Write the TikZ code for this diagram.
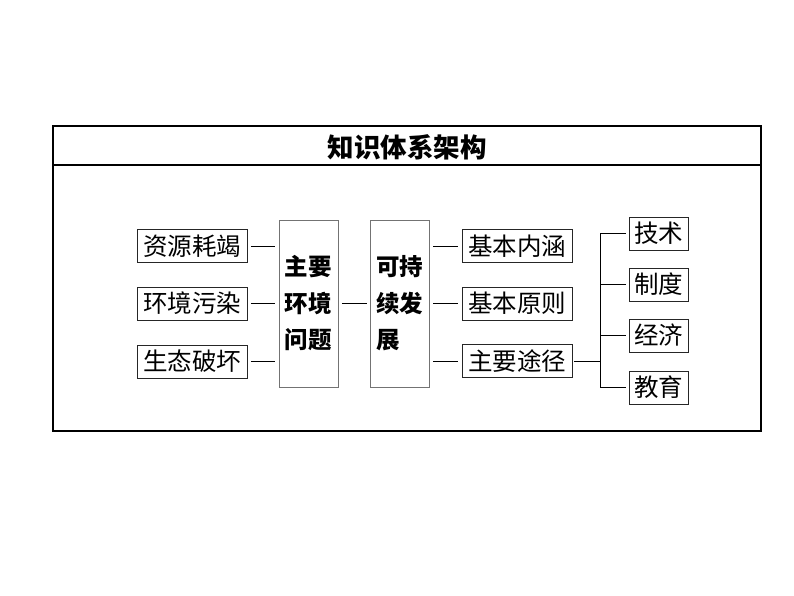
\documentclass[tikz,border=0pt]{standalone}
\usepackage{fontspec}
\newfontfamily\cjk{Noto Sans CJK SC}
\usetikzlibrary{calc}

\tikzset{
  item/.style={draw=black!85, line width=0.9pt, inner sep=0pt, minimum width=110pt, minimum height=33pt,
    font={\cjk\fontsize{24.5}{28}\selectfont}},
  small/.style={item, minimum width=59pt},
  tall/.style={draw=black!55, line width=0.9pt, inner sep=0pt, minimum width=59pt, minimum height=167pt,
    text width=48pt, align=left, font={\cjk\bfseries\fontsize{23.5}{36.5}\selectfont}},
  link/.style={line width=0.8pt, shorten <=3.5pt, shorten >=3.5pt},
}

\begin{document}
\begin{tikzpicture}[x=1pt,y=-1pt]
        \useasboundingbox (0,0) rectangle (794,596);

        % frame and title
        \draw[line width=1.1pt] (53,126) rectangle (761,431);
        \draw[line width=1.1pt] (53,165) -- (761,165);
        \node at (407,147) (title) {\cjk\bfseries\fontsize{26.5}{30}\selectfont 知识体系架构};

        % left column
        \node[item] at (192,246) (res) {资源耗竭};
        \node[item] at (192,303.5) (env) {环境污染};
        \node[item] at (192,361.5) (eco) {生态破坏};

        % the two tall boxes
        \node[tall] at (308.5,303.5) (prob) {主要\\环境\\问题};
        \node[tall] at (400,303.5) (sus) {可持\\续发\\展};

        % right column
        \node[item] at (517,246) (mean) {基本内涵};
        \node[item] at (517,303.5) (rule) {基本原则};
        \node[item] at (517,361) (way) {主要途径};

        % ways
        \node[small] at (658.5,233.5) (tech) {技术};
        \node[small] at (658.5,284.5) (inst) {制度};
        \node[small] at (658.5,335.5) (econ) {经济};
        \node[small] at (658.5,387.5) (edu) {教育};
        \coordinate (fork) at (600,361);

        \draw[link] (res.east) -- (res.east -| prob.west);
        \draw[link] (env.east) -- (env.east -| prob.west);
        \draw[link] (eco.east) -- (eco.east -| prob.west);
        \draw[link] (prob.east) -- (sus.west);
        \draw[link] (mean.west -| sus.east) -- (mean.west);
        \draw[link] (rule.west -| sus.east) -- (rule.west);
        \draw[link] (way.west -| sus.east) -- (way.west);

        \draw[line width=0.8pt, shorten <=2pt] (way.east) -- (fork);
        \draw[line width=0.8pt] (fork |- tech) -- (fork |- edu);
        \draw[line width=0.8pt, shorten >=3pt] (fork |- tech) -- (tech.west);
        \draw[line width=0.8pt, shorten >=3pt] (fork |- inst) -- (inst.west);
        \draw[line width=0.8pt, shorten >=3pt] (fork |- econ) -- (econ.west);
        \draw[line width=0.8pt, shorten >=3pt] (fork |- edu) -- (edu.west);
\end{tikzpicture}
\end{document}
